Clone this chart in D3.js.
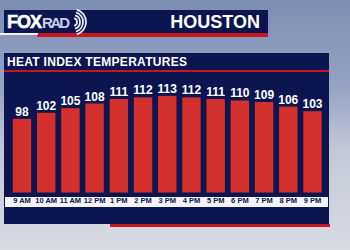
<!DOCTYPE html>
<html>
<head>
<meta charset="utf-8">
<script src="https://cdn.jsdelivr.net/npm/d3@7"></script>
<style>
  html, body { margin: 0; padding: 0; background: #9aa6c0; }
  svg { display: block; font-family: "Liberation Sans", Arial, sans-serif; }
</style>
</head>
<body>
<div id="vis"></div>
<script>
const svgWidth = 350;
const svgHeight = 250;

// chart data
const hours = ['9 AM', '10 AM', '11 AM', '12 PM', '1 PM', '2 PM', '3 PM', '4 PM', '5 PM', '6 PM', '7 PM', '8 PM', '9 PM'];
const heatIndex = [98, 102, 105, 108, 111, 112, 113, 112, 111, 110, 109, 106, 103];
const cityName = 'HOUSTON';
const chartTitle = 'HEAT INDEX TEMPERATURES';

const NAVY = '#0c1550';
const RED = '#c8161e';
const BAR_RED = '#d4302d';

const svg = d3.select('#vis').append('svg').attr('width', svgWidth).attr('height', svgHeight);

// background (sky + road photo, approximated)
const defs = svg.append('defs');
const bg = defs.append('linearGradient').attr('id', 'bg').attr('x1', 0).attr('y1', 0).attr('x2', 0).attr('y2', 1);
bg.append('stop').attr('offset', '0%').attr('stop-color', '#7d8db2');
bg.append('stop').attr('offset', '35%').attr('stop-color', '#97a3c3');
bg.append('stop').attr('offset', '60%').attr('stop-color', '#c3c8d6');
bg.append('stop').attr('offset', '100%').attr('stop-color', '#d9dbe2');
svg.append('rect').attr('width', svgWidth).attr('height', svgHeight).attr('fill', 'url(#bg)');

// header bar
const header = svg.append('g');
header.append('rect').attr('x', 4).attr('y', 10).attr('width', 264).attr('height', 23).attr('fill', NAVY);
header.append('rect').attr('x', 37).attr('y', 33).attr('width', 231).attr('height', 4).attr('fill', RED);
header.append('rect').attr('x', 0).attr('y', 33).attr('width', 38).attr('height', 2).attr('fill', '#f2f2f6');
const arc = d3.arc();
[4, 7, 10, 13].forEach((r) => {
  header.append('path')
    .attr('transform', 'translate(73,22)')
    .attr('d', arc({ innerRadius: r - 0.9, outerRadius: r + 0.9, startAngle: 0.3, endAngle: Math.PI - 0.3 }))
    .attr('fill', '#e8ebf6');
});
header.append('text').attr('x', 7).attr('y', 28)
  .attr('fill', '#fff').attr('font-size', 18).attr('font-weight', 'bold')
  .attr('stroke', '#fff').attr('stroke-width', 0.6)
  .attr('textLength', 35).text('FOX');
header.append('text').attr('x', 42).attr('y', 28)
  .attr('fill', '#c9cfe6').attr('font-size', 15).attr('font-weight', 'bold')
  .attr('textLength', 28).text('RAD');
header.append('text').attr('x', 260).attr('y', 28).attr('text-anchor', 'end')
  .attr('fill', '#fff').attr('font-size', 18).attr('font-weight', 'bold').text(cityName);

// chart panel
const panel = svg.append('g');
panel.append('rect').attr('x', 4).attr('y', 53).attr('width', 325).attr('height', 171).attr('fill', NAVY);
panel.append('rect').attr('x', 4).attr('y', 70).attr('width', 325).attr('height', 2).attr('fill', RED);
panel.append('text').attr('x', 7).attr('y', 66)
  .attr('fill', '#fff').attr('font-size', 12).attr('font-weight', 'bold')
  .attr('textLength', 180).text(chartTitle);
panel.append('rect').attr('x', 5).attr('y', 197).attr('width', 323).attr('height', 10).attr('fill', '#f3f3f8');
svg.append('rect').attr('x', 110).attr('y', 224).attr('width', 220).attr('height', 3).attr('fill', RED);

// scales
const x = d3.scaleBand().domain(hours).range([9.9, 324.6]).paddingInner(0.24).paddingOuter(0.12);
const y = d3.scaleLinear().domain([50, 115]).range([192.5, 92.8]);

const bars = svg.append('g');
bars.selectAll('rect')
  .data(heatIndex)
  .join('rect')
  .attr('x', (d, i) => x(hours[i]))
  .attr('y', (d) => y(d))
  .attr('width', x.bandwidth())
  .attr('height', (d) => y(50) - y(d))
  .attr('fill', BAR_RED);

bars.selectAll('text')
  .data(heatIndex)
  .join('text')
  .attr('x', (d, i) => x(hours[i]) + x.bandwidth() / 2)
  .attr('y', (d) => y(d) - 3)
  .attr('text-anchor', 'middle')
  .attr('fill', '#fff')
  .attr('font-size', 12)
  .attr('font-weight', 'bold')
  .text((d) => d);

const xAxis = d3.axisBottom(x).tickSize(0).tickPadding(0);
const axisG = svg.append('g').attr('transform', 'translate(0,198)').call(xAxis);
axisG.select('.domain').remove();
axisG.selectAll('text')
  .attr('fill', NAVY)
  .attr('font-size', 7.5)
  .attr('font-weight', 'bold')
  .attr('font-family', '"Liberation Sans", Arial, sans-serif')
  .attr('dy', '0.71em');
</script>
</body>
</html>
